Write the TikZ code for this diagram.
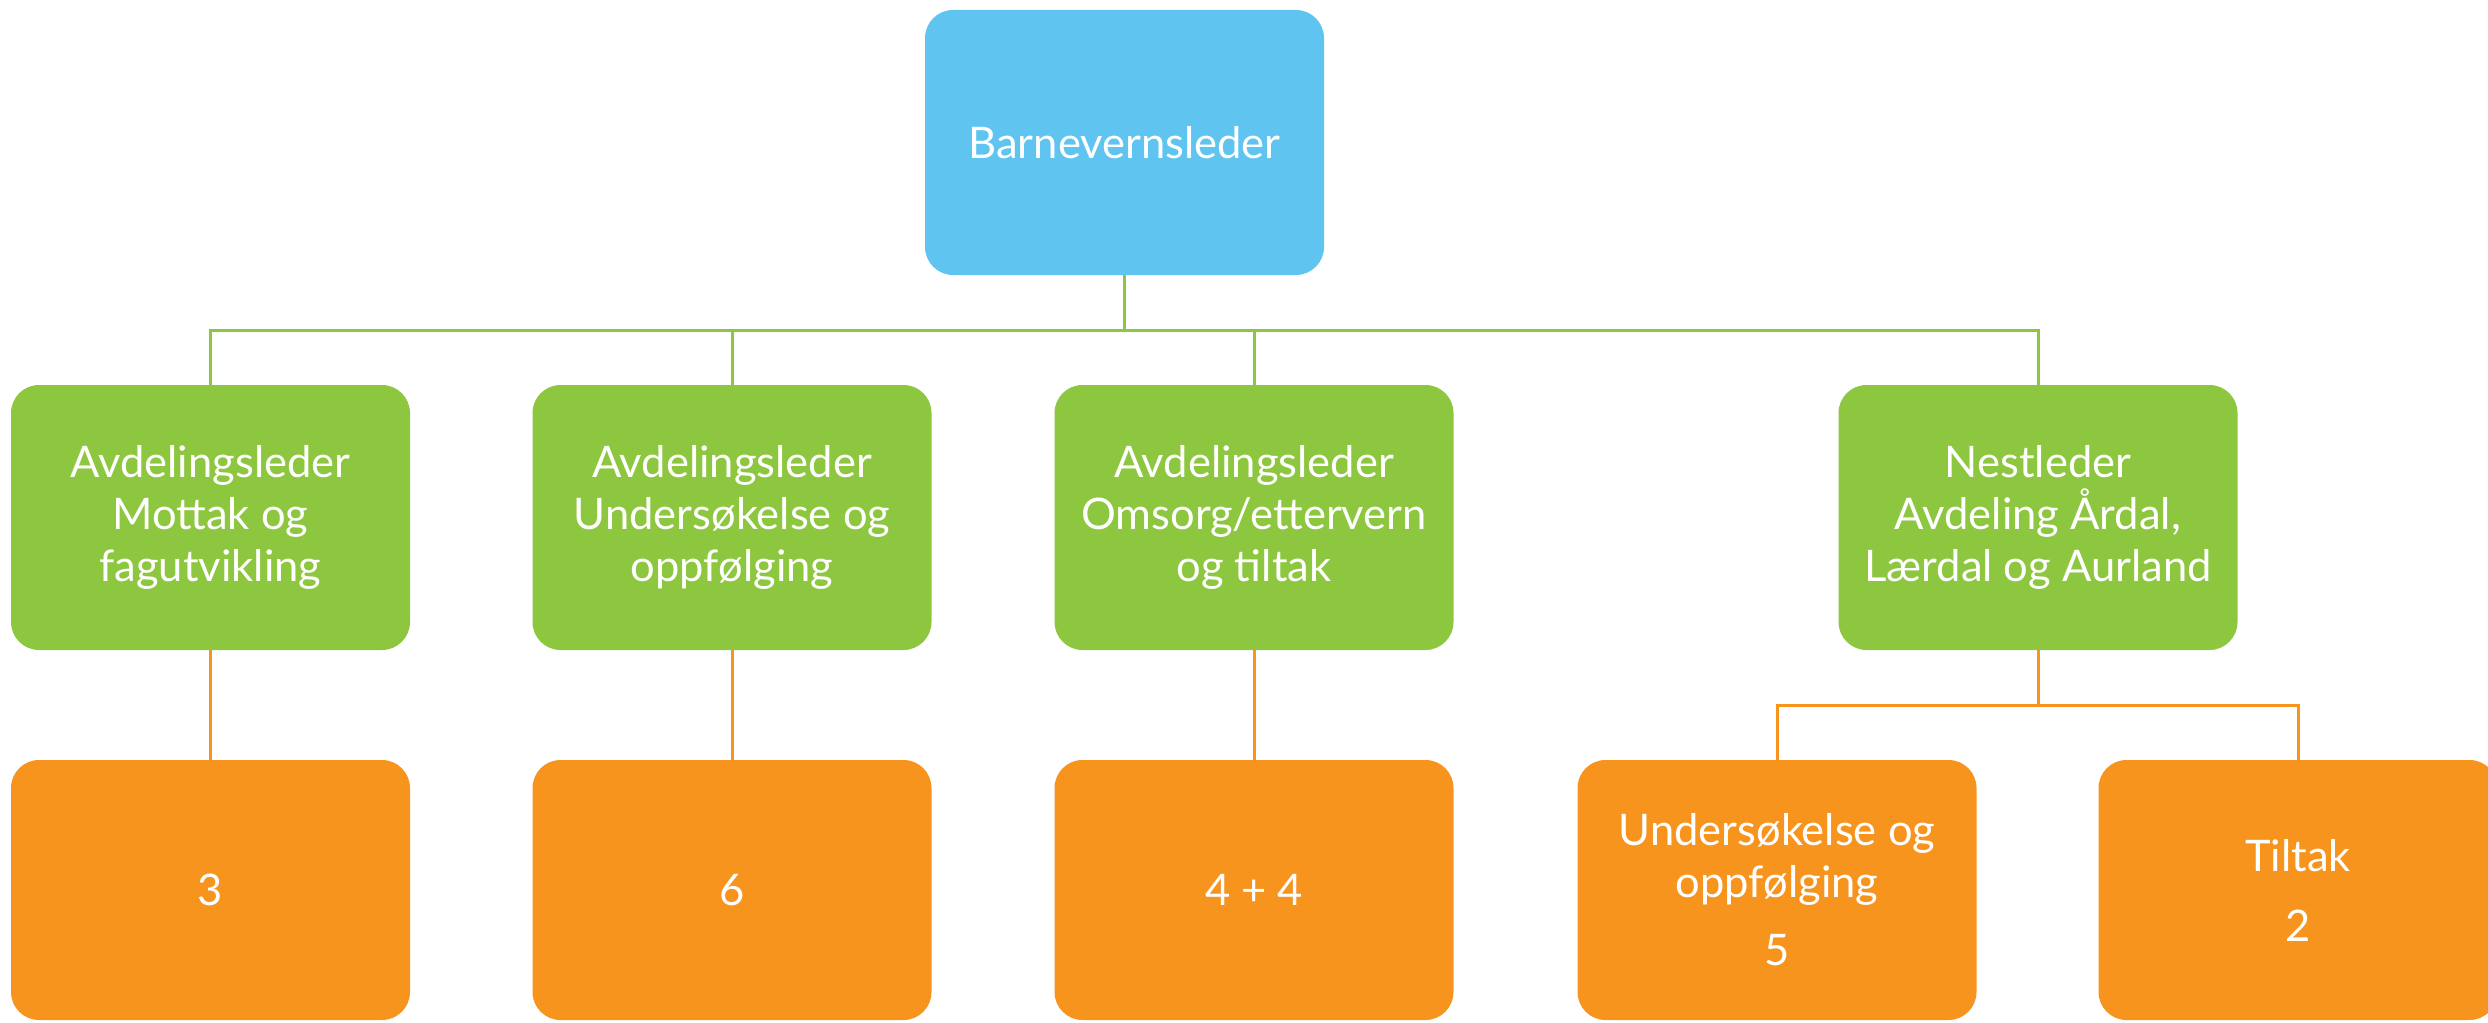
\documentclass[tikz,border=0pt]{standalone}
\usepackage{fontspec}
\setmainfont{Lato}
\definecolor{cblue}{HTML}{5FC5F0}
\definecolor{cgreen}{HTML}{8DC63F}
\definecolor{corange}{HTML}{F7941E}
\begin{document}
\begin{tikzpicture}[x=1pt,y=-1pt,
  box/.style={rectangle,rounded corners=28pt,minimum width=399pt,text=white,align=center,inner sep=0pt,
    font=\fontsize{43.5}{52}\selectfont},
  topbox/.style={box,fill=cblue,minimum height=265pt},
  greenbox/.style={box,fill=cgreen,minimum height=265pt},
  orangebox/.style={box,fill=corange,minimum height=260pt},
  gline/.style={draw=cgreen,line width=3pt},
  oline/.style={draw=corange,line width=3pt}]
\useasboundingbox (0,0) rectangle (2488,1022);
\node[topbox] (top) at (1124.5,142.5) {Barnevernsleder};
\node[greenbox] (g1) at (210.5,517.5) {Avdelingsleder\\Mottak og\\fagutvikling};
\node[greenbox] (g2) at (732,517.5) {Avdelingsleder\\Undersøkelse og\\oppfølging};
\node[greenbox] (g3) at (1254,517.5) {Avdelingsleder\\Omsorg/ettervern\\og tiltak};
\node[greenbox] (g4) at (2038,517.5) {Nestleder\\Avdeling Årdal,\\Lærdal og Aurland};
\node[orangebox] (o1) at (210.5,890) {3};
\node[orangebox] (o2) at (732,890) {6};
\node[orangebox] (o3) at (1254,890) {4 + 4};
\node[orangebox] (o4) at (1777,890) {Undersøkelse og\\oppfølging\\[16pt]5};
\node[orangebox] (o5) at (2298,890) {Tiltak\\[18pt]2};
\coordinate (gbus) at (0,330);
\coordinate (obus) at (0,705);
\draw[gline] (top.south) -- (top.south |- gbus);
\draw[gline] (g1.north) -- (g1.north |- gbus) -- (g4.north |- gbus) -- (g4.north);
\draw[gline] (g2.north) -- (g2.north |- gbus);
\draw[gline] (g3.north) -- (g3.north |- gbus);
\draw[oline] (g1.south) -- (o1.north);
\draw[oline] (g2.south) -- (o2.north);
\draw[oline] (g3.south) -- (o3.north);
\draw[oline] (g4.south) -- (g4.south |- obus);
\draw[oline] (o4.north) -- (o4.north |- obus) -- (o5.north |- obus) -- (o5.north);
\end{tikzpicture}
\end{document}
